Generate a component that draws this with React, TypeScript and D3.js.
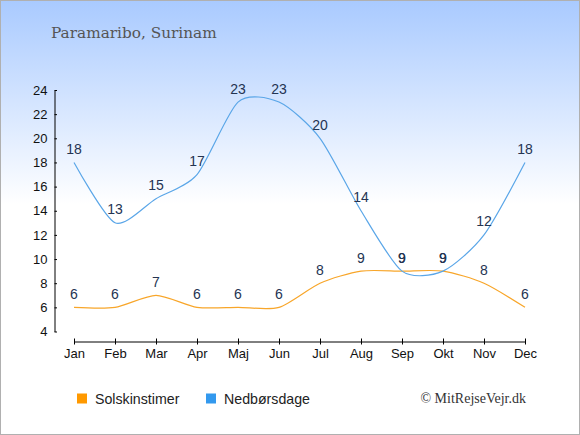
import React, { useRef, useEffect } from 'react';
import * as d3 from 'd3';

// 월 / 시리즈 데이터
const MONTHS = ['Jan', 'Feb', 'Mar', 'Apr', 'Maj', 'Jun', 'Jul', 'Aug', 'Sep', 'Okt', 'Nov', 'Dec'];
const SUN_HOURS = [6, 6, 7, 6, 6, 6, 8, 9, 9, 9, 8, 6];
const RAIN_DAYS = [18, 13, 15, 17, 23, 23, 20, 14, 9, 9, 12, 18];
const Y_TICKS = [4, 6, 8, 10, 12, 14, 16, 18, 20, 22, 24];

const TITLE = 'Paramaribo, Surinam';
const SUN_LABEL = 'Solskinstimer';
const RAIN_LABEL = 'Nedbørsdage';
const CREDIT = '© MitRejseVejr.dk';

const WIDTH = 580;
const HEIGHT = 435;

const COLOR_SUN = '#f8a62a';
const COLOR_SUN_KEY = '#ff9900';
const COLOR_RAIN = '#5aa6e8';
const COLOR_RAIN_KEY = '#3399ee';
const LABEL_COLOR = '#243452';
const SANS = '"Liberation Sans", Arial, sans-serif';

const App: React.FC = () => {
  const svgRef = useRef<SVGSVGElement | null>(null);

  useEffect(() => {
    const svg = d3.select(svgRef.current);
    svg.selectAll('*').remove();

    // 배경 그라디언트
    const defs = svg.append('defs');
    const grad = defs.append('linearGradient')
      .attr('id', 'bg')
      .attr('x1', 0).attr('y1', 0).attr('x2', 0).attr('y2', 1);
    grad.append('stop').attr('offset', '0%').attr('stop-color', '#a9caff');
    grad.append('stop').attr('offset', '47%').attr('stop-color', '#ffffff');
    grad.append('stop').attr('offset', '100%').attr('stop-color', '#ffffff');

    svg.append('rect')
      .attr('x', 0.5).attr('y', 0.5)
      .attr('width', WIDTH - 1).attr('height', HEIGHT - 1)
      .attr('fill', 'url(#bg)')
      .attr('stroke', '#b0b0b0');

    // 스케일
    const x = d3.scalePoint<string>().domain(MONTHS).range([74, 525]);
    const y = d3.scaleLinear().domain([4, 24]).range([331.5, 90]);
    const axisX = 54.5;
    const axisY = 341.5;

    // Y 축
    const yAxis = svg.append('g')
      .attr('transform', `translate(${axisX},0)`)
      .call(d3.axisLeft(y).tickValues(Y_TICKS).tickSizeInner(3).tickSizeOuter(0).tickPadding(4));
    yAxis.selectAll('.tick line').attr('x2', 2.5);
    yAxis.selectAll('.tick text').attr('font-size', 13).attr('font-family', SANS).attr('fill', '#111');
    yAxis.select('.domain').attr('stroke', '#000');

    // X 축
    const xAxis = svg.append('g')
      .attr('transform', `translate(0,${axisY})`)
      .call(d3.axisBottom(x).tickSizeInner(3).tickSizeOuter(0).tickPadding(4));
    xAxis.selectAll('.tick line').attr('y1', -3);
    xAxis.selectAll('.tick text').attr('font-size', 13).attr('font-family', SANS).attr('fill', '#111');
    xAxis.select('.domain').attr('stroke', '#000');

    // 선
    const line = d3.line<number>()
      .x((_, i) => x(MONTHS[i])!)
      .y((d) => y(d))
      .curve(d3.curveCardinal.tension(0.25));

    svg.append('path').datum(SUN_HOURS)
      .attr('d', line).attr('fill', 'none').attr('stroke', COLOR_SUN).attr('stroke-width', 1.2);
    svg.append('path').datum(RAIN_DAYS)
      .attr('d', line).attr('fill', 'none').attr('stroke', COLOR_RAIN).attr('stroke-width', 1.2);

    // 값 라벨
    [SUN_HOURS, RAIN_DAYS].forEach((series) => {
      svg.append('g').selectAll('text')
        .data(series)
        .enter()
        .append('text')
        .attr('x', (_, i) => x(MONTHS[i])!)
        .attr('y', (d) => y(d) - 8.5)
        .attr('text-anchor', 'middle')
        .attr('font-family', SANS)
        .attr('font-size', 14)
        .attr('fill', LABEL_COLOR)
        .text((d) => d);
    });

    // 제목
    svg.append('text')
      .attr('x', 51).attr('y', 38)
      .attr('font-family', '"DejaVu Serif", serif')
      .attr('font-size', 15.3)
      .attr('fill', '#555')
      .text(TITLE);

    // 범례
    const legend = [
      { label: SUN_LABEL, color: COLOR_SUN_KEY, x: 77 },
      { label: RAIN_LABEL, color: COLOR_RAIN_KEY, x: 206 },
    ];
    legend.forEach((l) => {
      svg.append('rect')
        .attr('x', l.x).attr('y', 393.5)
        .attr('width', 10).attr('height', 10)
        .attr('fill', l.color);
      svg.append('text')
        .attr('x', l.x + 18).attr('y', 403.5)
        .attr('font-family', SANS)
        .attr('font-size', 14.2)
        .attr('fill', '#222')
        .text(l.label);
    });

    svg.append('text')
      .attr('x', 526).attr('y', 403)
      .attr('text-anchor', 'end')
      .attr('font-family', '"Liberation Serif", "Times New Roman", serif')
      .attr('font-size', 14)
      .attr('fill', '#333')
      .text(CREDIT);
  }, []);

  return (
    <svg
      ref={svgRef}
      width={WIDTH}
      height={HEIGHT}
      style={{ position: 'absolute', left: 0, top: 0, display: 'block' }}
    />
  );
};

export default App;
